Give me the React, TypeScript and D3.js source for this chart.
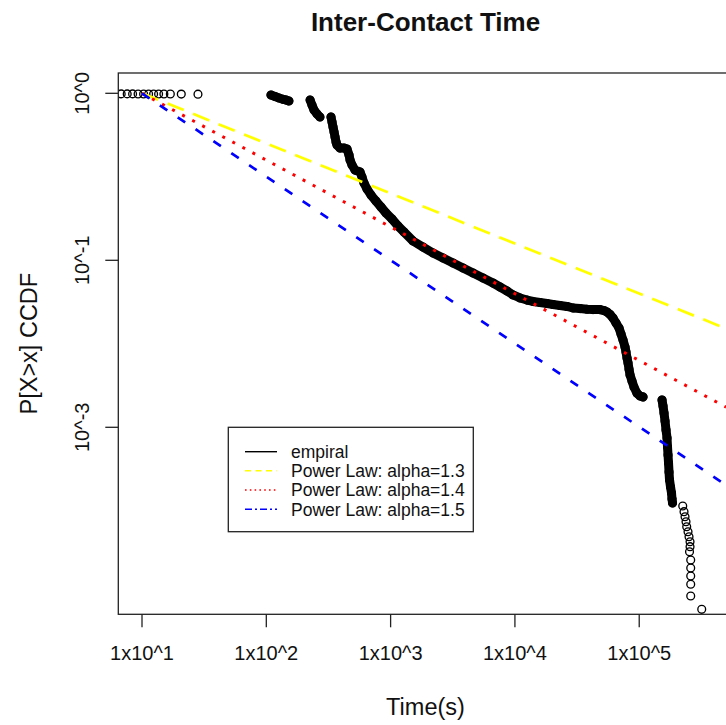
import { useEffect, useRef } from 'react';
import * as d3 from 'd3';

type Pt = [number, number];

const headPoints: Pt[] = [
  [6.8, 0.992], [7.6, 0.992], [8.4, 0.992], [9.3, 0.991], [10.3, 0.991], [11.3, 0.991],
  [12.4, 0.991], [13.6, 0.99], [15.0, 0.99], [16.9, 0.99], [20.7, 0.989], [28.2, 0.988],
];

const runA: Pt[] = [
  [109, 0.977], [117.5, 0.957], [126.5, 0.937], [136, 0.921], [144, 0.912], [152, 0.899],
];

const runB: Pt[] = [
  [225, 0.912], [233, 0.851], [242, 0.794], [256, 0.752], [270, 0.721],
];

const runC: Pt[] = [
  [331.6, 0.721], [337.9, 0.673], [344.2, 0.628], [350.7, 0.587], [357.2, 0.548], [363.9, 0.511],
  [370.7, 0.49], [391.7, 0.47], [421.9, 0.47], [445.9, 0.464], [462.8, 0.427], [471.5, 0.399],
  [489.3, 0.372], [517.2, 0.347], [567.4, 0.338], [588.8, 0.315], [611, 0.29], [645.8, 0.267],
  [695.5, 0.246], [762.6, 0.2265], [837.1, 0.2085], [918.3, 0.192], [1026, 0.1768], [1147, 0.1605],
  [1282, 0.1477], [1514, 0.1305], [1823, 0.1201], [2194, 0.1106], [2640, 0.1032], [3177, 0.0964],
  [3823, 0.0899], [4602, 0.0839], [5539, 0.0783], [6665, 0.0731], [7590, 0.0692], [8639, 0.0655],
  [9654, 0.062], [10990, 0.0595], [12520, 0.0578], [13980, 0.0567], [15920, 0.0559], [18130, 0.0551],
  [20250, 0.0544], [23060, 0.0536], [26260, 0.0529], [29340, 0.0518], [33410, 0.0514], [38030, 0.0509],
  [42500, 0.0507], [48370, 0.0507], [52110, 0.05], [55080, 0.049], [58240, 0.0474], [61540, 0.0451],
  [65060, 0.0421], [68790, 0.0393], [71390, 0.0362], [74080, 0.0333], [76870, 0.0303], [78300, 0.0282],
  [79780, 0.026], [81270, 0.0243], [82800, 0.0223], [84340, 0.0206], [87530, 0.0189], [90830, 0.0174],
  [96000, 0.016], [101500, 0.0154], [107300, 0.0152],
];

const runD: Pt[] = [
  [152600, 0.01457], [155400, 0.01341], [158300, 0.01218], [161300, 0.01091], [164300, 0.00963],
  [167400, 0.00863], [168900, 0.00762], [170500, 0.00683], [172100, 0.00611], [173700, 0.0054],
  [175300, 0.00484], [178600, 0.00439], [181900, 0.00404], [183600, 0.00372], [185300, 0.00352],
];

const tailPoints: Pt[] = [
  [223900, 0.003379], [229300, 0.003124], [233600, 0.002915], [237900, 0.00272], [241000, 0.002539],
  [246900, 0.00237], [251500, 0.002212], [256300, 0.002065], [256300, 0.001928], [253900, 0.001799],
  [259600, 0.001605], [259600, 0.001437], [259600, 0.001287], [259600, 0.001148], [259600, 0.000977],
  [318300, 0.000813],
];

const powerLawLabels = ['Power Law: alpha=1.3', 'Power Law: alpha=1.4', 'Power Law: alpha=1.5'];
const powerLawStart: Pt = [10, 1];
const powerLawEndTime = 5e5;
const powerLawEndProb = [0.039, 0.0132, 0.0045];

const xTicks = [10, 100, 1000, 10000, 100000];
const xTickLabels = ['1x10^1', '1x10^2', '1x10^3', '1x10^4', '1x10^5'];
const yTicks = [1, 0.1, 0.01];
const yTickLabels = ['10^0', '10^-1', '10^-3'];

const FONT = '"Liberation Sans", Arial, sans-serif';

export default function App() {
  const ref = useRef<SVGSVGElement | null>(null);

  useEffect(() => {
    if (!ref.current) return;
    const svg = d3.select(ref.current);
    svg.selectAll('*').remove();

    const width = 726;
    const height = 725;
    const left = 118.3, right = 732.7, top = 73, bottom = 614.3;

    const x = d3.scaleLog().domain([10 ** 0.8093, 10 ** 5.752]).range([left, right]);
    const y = d3.scaleLog().domain([10 ** -3.1198, 10 ** 0.1216]).range([bottom, top]);

    svg.attr('width', width).attr('height', height);

    svg.append('rect').attr('width', width).attr('height', height).attr('fill', '#fff');

    svg.append('clipPath').attr('id', 'plotclip')
      .append('rect')
      .attr('x', left).attr('y', top)
      .attr('width', right - left).attr('height', bottom - top);

    const plot = svg.append('g').attr('clip-path', 'url(#plotclip)');
    const line = d3.line<Pt>().x(d => x(d[0])).y(d => y(d[1]));

    // dense stretches: hundreds of overlapping markers merge into a solid band
    const runs = [runA, runB, runC, runD];
    plot.selectAll('path.band')
      .data(runs)
      .enter()
      .append('path')
      .attr('class', 'band')
      .attr('d', d => line(d))
      .attr('fill', 'none')
      .attr('stroke', '#000')
      .attr('stroke-width', 9)
      .attr('stroke-linecap', 'round')
      .attr('stroke-linejoin', 'round');

    const allPoints = [...headPoints, ...runs.flat(), ...tailPoints];
    plot.selectAll('circle')
      .data(allPoints)
      .enter()
      .append('circle')
      .attr('cx', d => x(d[0]))
      .attr('cy', d => y(d[1]))
      .attr('r', 3.9)
      .attr('fill', 'none')
      .attr('stroke', '#000')
      .attr('stroke-width', 1.35);

    const styles = [
      { color: '#FFFF00', width: 2.7, dash: '17.5,10', legendDash: '6,4.5' },
      { color: '#FF0000', width: 3, dash: '3,8.4', legendDash: '1.6,3.2' },
      { color: '#0000FF', width: 2.7, dash: '9,12.5', legendDash: '7,3,2,3' },
    ];

    powerLawEndProb.forEach((p, i) => {
      const pts: Pt[] = [powerLawStart, [powerLawEndTime, p]];
      plot.append('path')
        .attr('d', line(pts))
        .attr('fill', 'none')
        .attr('stroke', styles[i].color)
        .attr('stroke-width', styles[i].width)
        .attr('stroke-dasharray', styles[i].dash);
    });

    // box
    svg.append('rect')
      .attr('x', left).attr('y', top)
      .attr('width', right - left).attr('height', bottom - top)
      .attr('fill', 'none')
      .attr('stroke', '#222')
      .attr('stroke-width', 1.3);

    const tickLen = 13;

    const xAxis = svg.append('g');
    xTicks.forEach((t, i) => {
      xAxis.append('line')
        .attr('x1', x(t)).attr('x2', x(t))
        .attr('y1', bottom).attr('y2', bottom + tickLen)
        .attr('stroke', '#222').attr('stroke-width', 1.3);
      xAxis.append('text')
        .attr('x', x(t)).attr('y', 660)
        .attr('text-anchor', 'middle')
        .attr('font-family', FONT).attr('font-size', 20)
        .attr('fill', '#111')
        .text(xTickLabels[i]);
    });

    const yAxis = svg.append('g');
    yTicks.forEach((t, i) => {
      yAxis.append('line')
        .attr('x1', left - tickLen).attr('x2', left)
        .attr('y1', y(t)).attr('y2', y(t))
        .attr('stroke', '#222').attr('stroke-width', 1.3);
      yAxis.append('text')
        .attr('transform', `translate(89,${y(t)}) rotate(-90)`)
        .attr('text-anchor', 'middle')
        .attr('font-family', FONT).attr('font-size', 20)
        .attr('fill', '#111')
        .text(yTickLabels[i]);
    });

    svg.append('text')
      .attr('x', (left + right) / 2).attr('y', 31)
      .attr('text-anchor', 'middle')
      .attr('font-family', FONT).attr('font-size', 26).attr('font-weight', 'bold')
      .attr('fill', '#111')
      .text('Inter-Contact Time');

    svg.append('text')
      .attr('x', (left + right) / 2).attr('y', 715)
      .attr('text-anchor', 'middle')
      .attr('font-family', FONT).attr('font-size', 23.5)
      .attr('fill', '#111')
      .text('Time(s)');

    svg.append('text')
      .attr('transform', `translate(37,${(top + bottom) / 2}) rotate(-90)`)
      .attr('text-anchor', 'middle')
      .attr('font-family', FONT).attr('font-size', 23.5)
      .attr('fill', '#111')
      .text('P[X>x] CCDF');

    // legend
    const lg = svg.append('g');
    lg.append('rect')
      .attr('x', 228.3).attr('y', 427.3)
      .attr('width', 245).attr('height', 104.4)
      .attr('fill', '#fff')
      .attr('stroke', '#222').attr('stroke-width', 1.3);

    const legendRows = [
      { label: 'empiral', color: '#000', dash: null as string | null },
      ...powerLawLabels.map((label, i) => ({ label, color: styles[i].color, dash: styles[i].legendDash })),
    ];
    const rowY = [451.7, 470.8, 490, 509.3];
    legendRows.forEach((row, i) => {
      const ly = rowY[i];
      const seg = lg.append('line')
        .attr('x1', 245).attr('x2', 277)
        .attr('y1', ly).attr('y2', ly)
        .attr('stroke', row.color)
        .attr('stroke-width', 1.4);
      if (row.dash) seg.attr('stroke-dasharray', row.dash);
      lg.append('text')
        .attr('x', 291).attr('y', ly + 6.3)
        .attr('font-family', FONT).attr('font-size', 17.5)
        .attr('fill', '#111')
        .text(row.label);
    });
  }, []);

  return (
    <div style={{ position: 'absolute', left: 0, top: 0, width: 726, height: 725, overflow: 'hidden' }}>
      <svg ref={ref}></svg>
    </div>
  );
}
